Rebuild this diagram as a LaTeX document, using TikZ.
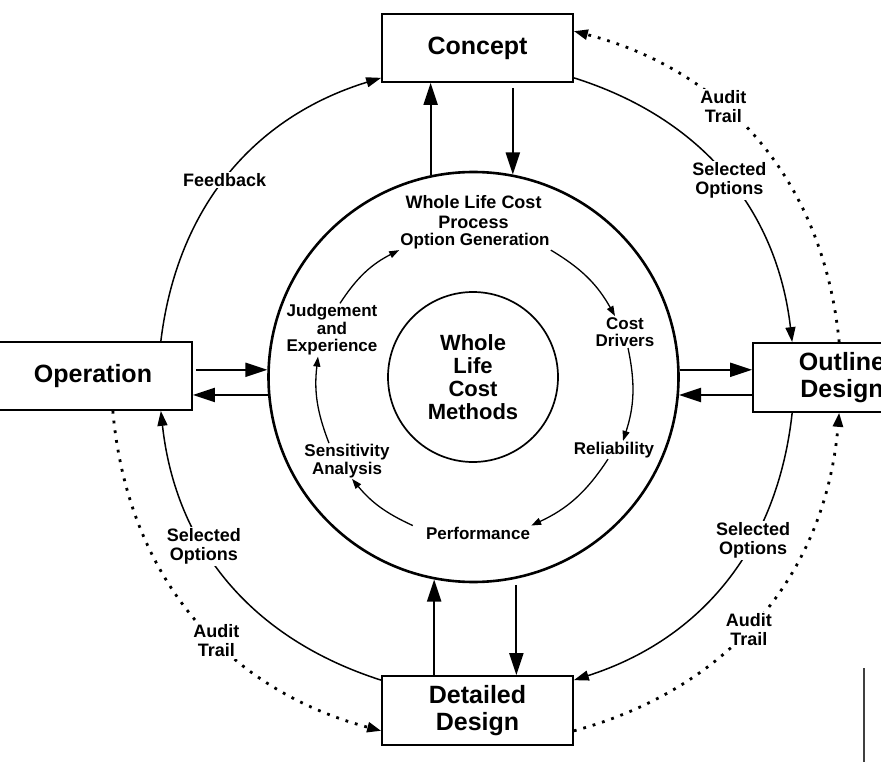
\documentclass[tikz,border=0pt]{standalone}
\usepackage{fontspec}
\setmainfont{Liberation Sans}
\usetikzlibrary{arrows.meta}

\begin{document}
\begin{tikzpicture}[x=1pt,y=1pt,
    stage/.style={draw,line width=1.7pt,minimum height=68pt,inner sep=2pt,
      align=center,font=\fontsize{25}{27}\selectfont\bfseries},
    cyc/.style={inner sep=1pt,align=center,font=\fontsize{17}{17.5}\selectfont\bfseries},
    lbl/.style={fill=white,inner sep=1.5pt,align=center,font=\fontsize{18}{19}\selectfont\bfseries},
    link/.style={line width=2pt,-{Triangle[length=22pt,width=14pt]}},
    flow/.style={line width=1.5pt,-{Triangle[length=15pt,width=10pt]}},
    audit/.style={line width=2.8pt,dash pattern=on 2.8pt off 7pt,-{Triangle[length=14pt,width=10pt]}},
    cycarrow/.style={line width=1.3pt,-{Triangle[length=10pt,width=7pt]}}]%
  \useasboundingbox (0,0) rectangle (881,-762);
  % Life cycle stages
  \node[stage,minimum width=191pt] (conc) at (477.5,-48) {Concept};
  \node[stage,minimum width=198pt] (op) at (93,-376) {Operation};
  \node[stage,minimum width=178pt,minimum height=69pt] (out) at (842,-377.5) {Outline\\Design};
  \node[stage,minimum width=191pt,minimum height=69pt] (det) at (477.5,-710.5) {Detailed\\Design};
  % Process ring and methods core
  \node[circle,draw,line width=2.6pt,minimum size=410pt] (bigc) at (473.5,-377) {};
  \node[circle,draw,line width=1.7pt,minimum size=170pt,inner sep=0pt,align=center,
    font=\fontsize{22}{23}\selectfont\bfseries] (wlcm) at (473,-377) {Whole\\Life\\Cost\\Methods};
  \node[cyc,font=\fontsize{18}{20}\selectfont\bfseries] (wlcp) at (473.5,-212) {Whole Life Cost\\Process};
  \node[cyc] (optgen) at (475,-241) {Option Generation};
  \node[cyc] (costdr) at (625,-332) {Cost\\Drivers};
  \node[cyc] (rel) at (614,-450) {Reliability};
  \node[cyc] (perf) at (478,-533) {Performance};
  \node[cyc] (sens) at (347,-461) {Sensitivity\\Analysis};
  \node[cyc] (judg) at (332,-330) {Judgement\\and\\Experience};
  % Inner cycle
  \draw[cycarrow] ([xshift=8pt]judg.north) to[bend left=15] (optgen.south west);
  \draw[cycarrow] (optgen.south east) to[bend left=15] ([xshift=-10pt]costdr.north);
  \draw[cycarrow] ([xshift=3pt]costdr.south) to[bend left=15] ([xshift=9pt]rel.north);
  \draw[cycarrow] ([xshift=-6pt]rel.south) to[bend left=16] (perf.north east);
  \draw[cycarrow] ([xshift=-12pt]perf.north west) to[bend left=13] ([xshift=5pt]sens.south);
  \draw[cycarrow] ([xshift=-18pt]sens.north) to[bend left=14] ([xshift=-14pt]judg.south);
  % Links between stages and ring
  \draw[link] (bigc.102) -- (bigc.102 |- conc.south);
  \draw[link] ([yshift=-5pt]bigc.79 |- conc.south) -- (bigc.79);
  \draw[link] (bigc.259 |- det.north) -- (bigc.259);
  \draw[link] ([yshift=-6pt]bigc.282) -- (bigc.282 |- det.north);
  \draw[link] ([xshift=3pt]op.east |- bigc.178) -- (bigc.178);
  \draw[link] (bigc.185) -- (op.east |- bigc.185);
  \draw[link] (bigc.2) -- (out.west |- bigc.2);
  \draw[link] (out.west |- bigc.355) -- (bigc.355);
  % Outer flows
  \draw[flow] ([xshift=-32pt]op.north east) to[bend left=33]
    node[lbl,pos=.48] (fb) {Feedback} ([yshift=5pt]conc.south west);
  \draw[flow] ([yshift=5pt]conc.south east) to[bend left=33]
    node[lbl,pos=.52] (seltr) {Selected\\Options} ([xshift=40pt]out.north west);
  \draw[flow] ([xshift=40pt]out.south west) to[bend left=33]
    node[lbl,pos=.36] (selbr) {Selected\\Options} ([yshift=-5pt]det.north east);
  \draw[flow] ([yshift=-5pt]det.north west) to[bend left=33]
    node[lbl,pos=.62] (selbl) {Selected\\Options} ([xshift=-32pt]op.south east);
  % Audit trails (dotted)
  \draw[audit] ([xshift=87pt]out.north west) to[bend right=35]
    node[lbl,pos=.62] (audtr) {Audit\\Trail} ([yshift=-18pt]conc.north east);
  \draw[audit] ([yshift=15pt]det.south east) to[bend right=35]
    node[lbl,pos=.46] (audbr) {Audit\\Trail} ([xshift=87pt]out.south west);
  \draw[audit] ([xshift=-80pt]op.south east) to[bend right=35]
    node[lbl,pos=.58] (audbl) {Audit\\Trail} ([yshift=15pt]det.south west);
  % stray rule at the lower right
  \draw[line width=1.5pt,black!75] (864,-668) -- (864,-762);
\end{tikzpicture}
\end{document}
